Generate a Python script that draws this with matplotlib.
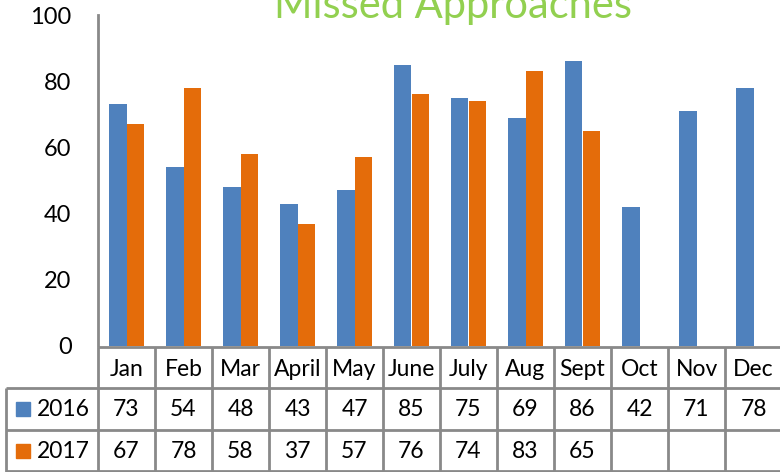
import matplotlib.pyplot as plt
import matplotlib.transforms as mtransforms
import numpy as np

plt.rcParams['font.family'] = ['Lato', 'DejaVu Sans']

# 数据
months = ['Jan', 'Feb', 'Mar', 'April', 'May', 'June', 'July', 'Aug', 'Sept', 'Oct', 'Nov', 'Dec']
series_names = ['2016', '2017']
values_2016 = [73, 54, 48, 43, 47, 85, 75, 69, 86, 42, 71, 78]
values_2017 = [67, 78, 58, 37, 57, 76, 74, 83, 65, None, None, None]
colors = ['#4F81BD', '#E46C0A']
yticks = [0, 20, 40, 60, 80, 100]

W, H = 780, 472
fig = plt.figure(figsize=(W / 100, H / 100), dpi=100)
# 坐标轴位置（像素换算）
ax = fig.add_axes([98 / W, (H - 346) / H, 684 / W, (346 - 15) / H])

x = np.arange(len(months))
bw = 0.31
ax.bar(x - bw / 2, values_2016, bw, color=colors[0])
v17 = [np.nan if v is None else v for v in values_2017]
ax.bar(x + bw / 2, v17, bw, color=colors[1])

ax.set_xlim(-0.5, len(months) - 0.5)
ax.set_ylim(0, 100)
ax.set_yticks(yticks)
ax.tick_params(axis='y', length=0, pad=19, labelsize=17)
ax.set_xticks([])
for s in ['top', 'right', 'bottom']:
    ax.spines[s].set_visible(False)
ax.spines['left'].set_color('#898989')
ax.spines['left'].set_linewidth(2)

fig.text(453 / W, 1 - 18 / H, 'Missed Approaches', color='#92D050', fontsize=30,
         ha='center', va='baseline')

# 数据表（x 用数据坐标，y 用像素）
tr = mtransforms.blended_transform_factory(ax.transData, fig.transFigure)
def fy(p):
    return 1 - p / H

grid = dict(color='#898989', lw=2, transform=tr, clip_on=False, solid_capstyle='butt')
left_x = -0.5 - 92 / 57
ax.plot([-0.5, len(months) - 0.5], [fy(347), fy(347)], **grid)
for yy in [388, 430, 471]:
    ax.plot([left_x, len(months) - 0.5], [fy(yy), fy(yy)], **grid)
for i in range(len(months) + 1):
    ax.plot([i - 0.5, i - 0.5], [fy(347), fy(472)], **grid)
ax.plot([left_x, left_x], [fy(388), fy(472)], **grid)

fs = 16.5
for i, m in enumerate(months):
    ax.text(i, fy(369), m, transform=tr, ha='center', va='center', fontsize=fs, clip_on=False)
rows = [values_2016, values_2017]
row_y = [409, 451]
for r, vals in enumerate(rows):
    for i, v in enumerate(vals):
        if v is not None:
            ax.text(i, fy(row_y[r]), str(v), transform=tr, ha='center', va='center',
                    fontsize=fs, clip_on=False)
    ax.add_patch(plt.Rectangle((left_x + 10 / 57, fy(row_y[r] + 7)), 14 / 57, 14 / H,
                               color=colors[r], transform=tr, clip_on=False))
    ax.text(left_x + 31 / 57, fy(row_y[r]), series_names[r], transform=tr,
            ha='left', va='center', fontsize=fs, clip_on=False)

fig.savefig('out.png', dpi=100)
